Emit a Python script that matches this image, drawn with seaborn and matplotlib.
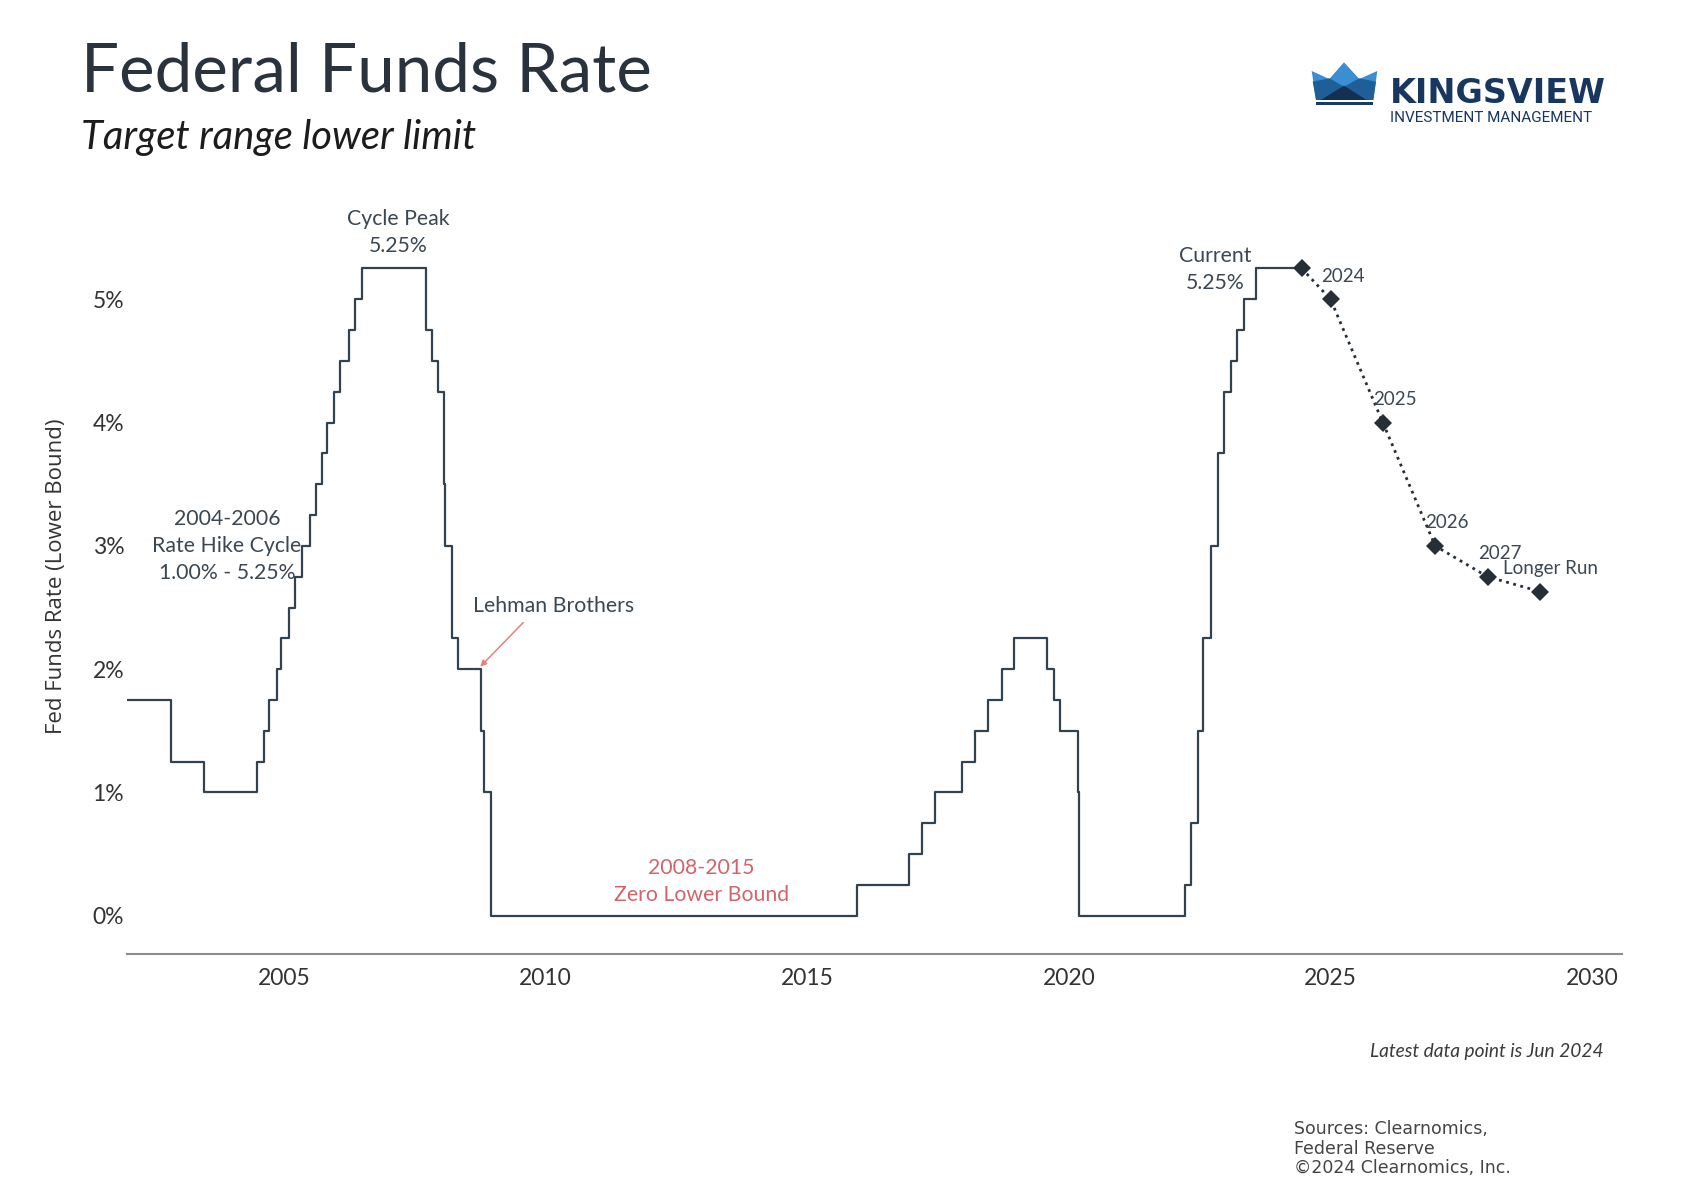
import pandas as pd
import seaborn as sns
import matplotlib.pyplot as plt
from matplotlib.patches import Polygon, Rectangle

# target range lower bound, one entry per change (decimal year)
rate_dates = [2002.0, 2002.85, 2003.48, 2004.49, 2004.61, 2004.72, 2004.86, 2004.95,
              2005.09, 2005.22, 2005.34, 2005.49, 2005.61, 2005.72, 2005.83, 2005.95,
              2006.08, 2006.24, 2006.36, 2006.49, 2007.71, 2007.83, 2007.94, 2008.06,
              2008.08, 2008.21, 2008.33, 2008.77, 2008.82, 2008.96, 2015.96, 2016.95,
              2017.2, 2017.45, 2017.95, 2018.21, 2018.46, 2018.72, 2018.96, 2019.58,
              2019.71, 2019.83, 2020.17, 2020.2, 2022.21, 2022.34, 2022.46, 2022.57,
              2022.72, 2022.84, 2022.96, 2023.09, 2023.22, 2023.34, 2023.57, 2024.45]
rate_values = [1.75, 1.25, 1.0, 1.25, 1.5, 1.75, 2.0, 2.25,
               2.5, 2.75, 3.0, 3.25, 3.5, 3.75, 4.0, 4.25,
               4.5, 4.75, 5.0, 5.25, 4.75, 4.5, 4.25, 3.5,
               3.0, 2.25, 2.0, 1.5, 1.0, 0.0, 0.25, 0.5,
               0.75, 1.0, 1.25, 1.5, 1.75, 2.0, 2.25, 2.0,
               1.75, 1.5, 1.0, 0.0, 0.25, 0.75, 1.5, 2.25,
               3.0, 3.75, 4.25, 4.5, 4.75, 5.0, 5.25, 5.25]

# projections (lower bound)
proj_dates = [2024.45, 2025.0, 2026.0, 2027.0, 2028.0, 2029.0]
proj_values = [5.25, 5.0, 4.0, 3.0, 2.75, 2.63]
proj_labels = ["", "2024", "2025", "2026", "2027", "Longer Run"]

x_ticks = [2005, 2010, 2015, 2020, 2025, 2030]
y_ticks = [0, 1, 2, 3, 4, 5]

hist = pd.DataFrame({"date": rate_dates, "rate": rate_values})
proj = pd.DataFrame({"date": proj_dates, "rate": proj_values, "label": proj_labels})

sns.set_theme(style="white")
plt.rcParams["font.family"] = ["Lato", "DejaVu Sans"]

line_col = "#33424f"
text_col = "#3b4753"
red_col = "#d2646a"

W, H = 1704, 1200
fig = plt.figure(figsize=(W / 100, H / 100), dpi=100)
ax = fig.add_axes([127 / W, 0.205, 1495 / W, 0.6175])

sns.lineplot(data=hist, x="date", y="rate", drawstyle="steps-post", color=line_col,
             linewidth=1.6, estimator=None, ax=ax)
sns.lineplot(data=proj, x="date", y="rate", color="#262f38", linestyle=":", linewidth=2.0,
             marker="D", markersize=9, markeredgewidth=0, estimator=None, sort=False, ax=ax)

for x, y, lab in zip(proj_dates, proj_values, proj_labels):
    if not lab:
        continue
    off = (-26.5, 16.5) if lab == "Longer Run" else (-7, 16.5)
    ax.annotate(lab, (x, y), xytext=off, textcoords="offset points", fontsize=13.5,
                color=text_col, ha="left", va="center")

ax.set_xlim(2002.0, 2030.57)
ax.set_ylim(-0.31, 5.7)
ax.set_xticks(x_ticks)
ax.set_xticklabels([str(t) for t in x_ticks])
ax.set_yticks(y_ticks)
ax.set_yticklabels([f"{t}%" for t in y_ticks])
ax.tick_params(axis="both", length=0, labelsize=16.5, labelcolor="#333333")
ax.tick_params(axis="x", pad=10)
ax.tick_params(axis="y", pad=2)
for s in ["top", "right", "left"]:
    ax.spines[s].set_visible(False)
ax.spines["bottom"].set_color("#8c8c8c")
ax.spines["bottom"].set_linewidth(1.5)
ax.set_xlabel("")
ax.set_ylabel("Fed Funds Rate (Lower Bound)", fontsize=16, color="#333333",
              family=["Open Sans", "DejaVu Sans"])
ax.yaxis.set_label_coords(-0.040, 0.51)

# annotations
ax.text(2007.18, 5.54, "Cycle Peak\n5.25%", ha="center", va="center", fontsize=15.3,
        color=text_col, linespacing=1.45)
ax.text(2003.91, 3.0, "2004-2006\nRate Hike Cycle\n1.00% - 5.25%", ha="center",
        va="center", fontsize=15.3, color=text_col, linespacing=1.45)
ax.text(2022.79, 5.24, "Current\n5.25%", ha="center", va="center", fontsize=15.3,
        color=text_col, linespacing=1.45)
ax.text(2012.98, 0.28, "2008-2015\nZero Lower Bound", ha="center", va="center",
        fontsize=15.3, color=red_col, linespacing=1.45)
ax.annotate("Lehman Brothers", xy=(2008.75, 2.02), xytext=(2010.15, 2.51),
            ha="center", va="center", fontsize=15.3, color=text_col,
            arrowprops=dict(arrowstyle="-|>", color="#e5827f", lw=1.1,
                            mutation_scale=9, relpos=(0.35, 0), shrinkA=3, shrinkB=0))

# titles and notes
fig.text(81 / W, 1 - 91 / H, "Federal Funds Rate", fontsize=48.5, color="#2a333d",
         va="baseline", ha="left")
fig.text(81 / W, 1 - 149 / H, "Target range lower limit", fontsize=28.8, style="italic",
         color="#1c1c1c", va="baseline", ha="left")
fig.text(1604 / W, 1 - 1052 / H, "Latest data point is Jun 2024", fontsize=13.8,
         style="italic", color="#3a3a3a", ha="right", va="center")
fig.text(1294 / W, 1 - 1120 / H, "Sources: Clearnomics,\nFederal Reserve\n\u00a92024 Clearnomics, Inc.",
         fontsize=12.5, color="#444444", ha="left", va="top", linespacing=1.12,
         family=["DejaVu Sans"])

# logo
lax = fig.add_axes([1300 / W, 1 - 125 / H, 310 / W, 70 / H])
lax.set_xlim(1300, 1610)
lax.set_ylim(125, 55)
lax.axis("off")
lax.add_patch(Polygon([(1311.7, 71), (1329.3, 79), (1344, 62.3), (1359.3, 79),
                       (1377.3, 71), (1373.3, 100), (1316, 100)], closed=True,
                      facecolor="#3b8dd4", edgecolor="none"))
lax.add_patch(Polygon([(1312.7, 81.7), (1329.3, 78.3), (1344, 86.7), (1359.3, 78.3),
                       (1376, 81.7), (1373.3, 100), (1316, 100)], closed=True,
                      facecolor="#1d5f96", edgecolor="none"))
lax.add_patch(Polygon([(1320.7, 100), (1344, 85.7), (1366.7, 100)], closed=True,
                      facecolor="#132f52", edgecolor="none"))
lax.add_patch(Rectangle((1316, 102), 56.7, 3, facecolor="#1a3b63", edgecolor="none"))
lax.text(1390, 103, "KINGSVIEW", fontsize=24, fontweight="bold", color="#17375e",
         family=["DejaVu Sans"], ha="left", va="baseline")
lax.text(1390, 122, "INVESTMENT MANAGEMENT", fontsize=11, color="#17375e",
         family=["Roboto", "DejaVu Sans"], ha="left", va="baseline")

fig.savefig("out.png", dpi=100, facecolor="white")
